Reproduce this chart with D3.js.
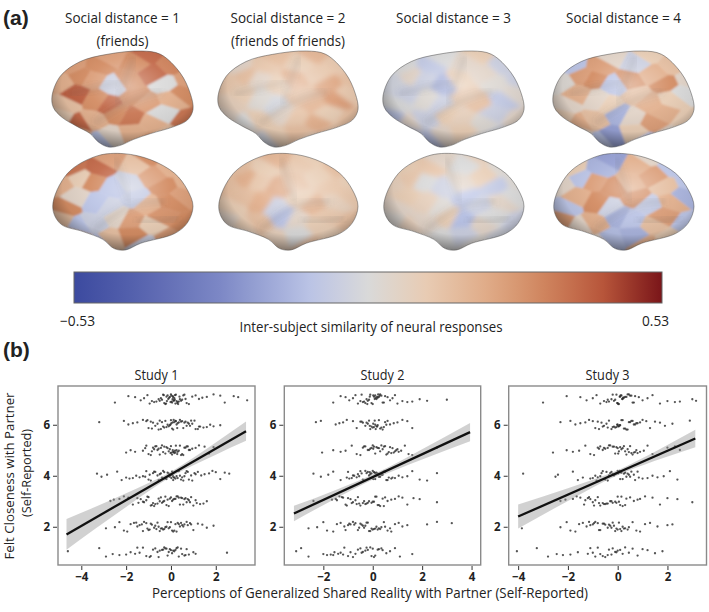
<!DOCTYPE html>
<html>
<head>
<meta charset="utf-8">
<script src="https://cdn.jsdelivr.net/npm/d3@7"></script>
<style>
  body { margin: 0; background: #fff; }
  svg text { font-family: "Open Sans", "Noto Sans", sans-serif; fill: #222; }
</style>
</head>
<body>
<svg id="fig" width="709" height="612"></svg>
<script>
// ---- panel (a) ----
const distTitles = [["Social distance = 1", "(friends)"], ["Social distance = 2", "(friends of friends)"], ["Social distance = 3"], ["Social distance = 4"]];
const simRange = [-0.53, 0.53];

const simTop1 = [0.15,0.25,0.3,0.25,0.3,0.38,0.32,0.28, 0.2,0.3,0.25,-0.05,0.3,0.38,0.0,0.25, 0.15,0.4,0.3,0.38,0.3,0.25,0.2,0.3, 0.1,0.38,0.2,0.3,0.35,0.2,0.0,0.35, 0.25,0.2,-0.1,0.05,0.2,0.25,0.15,0.2];
const simBot1 = [0.3,0.35,0.38,0.25,0.15,0.3,0.2,0.25, 0.2,0.1,0.3,-0.1,-0.05,0.25,0.3,0.2, 0.3,0.05,-0.1,-0.05,-0.08,0.2,0.3,0.25, 0.15,-0.1,-0.05,0.05,0.25,0.1,0.28,0.3, 0.2,0.2,-0.1,0.15,0.3,-0.05,0.25,0.2];
const simTop2 = [0.1,0.05,0.12,0.15,0.1,0.18,0.12,0.08, 0.12,0.15,0.05,0.1,0.2,0.12,0.22,0.15, 0.08,0.1,0.02,-0.02,0.15,0.18,0.25,0.12, 0.05,0.0,0.1,0.05,0.12,0.2,0.1,0.15, 0.1,0.05,-0.03,0.1,0.15,0.08,0.12,0.1];
const simBot2 = [0.12,0.15,0.1,0.18,0.12,0.1,0.15,0.08, 0.15,0.2,0.12,0.22,0.15,0.1,0.12,0.1, 0.1,0.15,0.2,-0.05,0.1,0.18,0.08,0.12, 0.05,0.1,0.15,-0.1,0.05,0.1,0.12,0.15, 0.1,0.05,0.12,0.08,0.0,0.15,0.1,0.05];
const simTop3 = [-0.05,0.0,-0.08,0.0,0.05,0.1,-0.05,0.0, -0.03,0.05,-0.05,-0.15,0.1,0.05,0.02,-0.05, 0.0,-0.05,0.02,-0.05,0.12,0.15,-0.08,0.03, -0.1,0.05,-0.05,0.1,0.08,0.02,-0.05,0.05, -0.05,-0.08,-0.1,0.05,0.1,0.0,-0.03,0.02];
const simBot3 = [0.05,0.1,0.12,0.05,0.0,0.08,0.02,0.0, 0.08,0.12,0.0,-0.05,0.05,0.1,-0.08,0.02, 0.05,0.1,0.08,0.02,-0.1,-0.05,0.05,0.0, 0.02,0.08,0.05,0.1,-0.12,0.05,0.0,-0.05, 0.0,0.05,0.02,0.0,-0.05,0.02,-0.03,0.0];
const simTop4 = [0.05,-0.1,0.25,0.05,-0.05,0.1,0.15,-0.15, 0.02,0.25,0.3,-0.1,0.28,0.2,0.3,0.05, 0.05,0.2,0.05,0.1,0.15,0.2,0.1,0.0, 0.1,0.2,0.15,-0.15,0.05,0.25,0.2,0.1, 0.1,0.05,-0.1,-0.2,0.1,-0.1,0.05,0.0];
const simBot4 = [-0.05,0.1,-0.15,-0.2,0.2,0.05,-0.1,0.0, 0.05,-0.1,0.25,0.3,0.2,0.25,0.15,-0.1, -0.1,0.2,0.3,-0.05,0.28,-0.08,0.2,-0.15, 0.25,0.05,0.2,-0.15,-0.1,0.15,0.25,-0.1, 0.1,0.15,0.05,-0.12,-0.15,0.2,0.1,0.0];

// ---- panel (b) ----
const studyNames = ["Study 1", "Study 2", "Study 3"];
const closenessLevels = [1, 2, 3, 4, 5, 6, 7];
// x (shared reality) of each respondent, one list per closeness level 1..7
const study1X = [
  [-4.6,-3.2,-2.9,-2.6,-2.3,-2.0,-1.8,-1.6,-1.4,-1.25,-1.1,-0.95,-0.8,-0.7,-0.6,-0.5,-0.4,-0.3,-0.2,-0.15,-0.05,0,0.05,0.15,0.25,0.35,0.5,0.65,0.8,1.0,1.1,2.5,
   -1.5,-0.9,-0.55,-0.35,-0.25,-0.1,0.1,0.2,0.3,0.45,0.6,0.7],
  [-2.9,-2.5,-2.3,-2.1,-1.95,-1.8,-1.65,-1.5,-1.4,-1.3,-1.2,-1.1,-1.0,-0.9,-0.85,-0.75,-0.7,-0.6,-0.5,-0.45,-0.35,-0.3,-0.2,-0.1,-0.05,0,0.05,0.1,0.2,0.3,0.4,0.5,0.6,0.7,0.85,1.0,1.2,1.4,1.6,1.9,
   -1.55,-1.25,-1.05,-0.95,-0.65,-0.55,-0.4,-0.25,-0.15,0.15,0.25,0.35,0.45,0.55,0.75,0.9],
  [-2.7,-2.55,-2.3,-2.1,-1.9,-1.7,-1.5,-1.35,-1.2,-1.1,-1.0,-0.9,-0.8,-0.7,-0.6,-0.5,-0.4,-0.35,-0.25,-0.2,-0.1,-0.05,0,0.05,0.1,0.2,0.25,0.35,0.4,0.5,0.6,0.7,0.8,0.9,1.0,1.15,1.3,1.45,1.6,
   -1.45,-1.25,-1.05,-0.85,-0.75,-0.55,-0.45,-0.3,-0.15,0.15,0.3,0.45,0.55,0.65,0.75,0.85,1.1],
  [-3.3,-3.1,-2.85,-2.4,-2.2,-2.0,-1.85,-1.7,-1.55,-1.4,-1.25,-1.1,-1.0,-0.9,-0.8,-0.7,-0.6,-0.5,-0.45,-0.35,-0.3,-0.2,-0.15,-0.1,-0.05,0,0.05,0.1,0.15,0.2,0.3,0.4,0.5,0.6,0.7,0.8,0.95,1.05,1.2,1.35,1.5,1.7,1.85,2.0,2.2,2.4,2.6,
   -1.15,-0.95,-0.75,-0.55,-0.4,-0.25,0.02,0.08,0.12,0.25,0.35,0.45,0.55,0.65,0.75,0.9,1.1],
  [-2.0,-1.8,-1.6,-1.25,-1.1,-1.0,-0.9,-0.8,-0.7,-0.6,-0.55,-0.45,-0.4,-0.3,-0.25,-0.2,-0.15,-0.1,-0.05,0,0.05,0.1,0.15,0.2,0.25,0.3,0.35,0.4,0.5,0.55,0.65,0.75,0.85,0.95,1.1,1.25,1.5,1.7,1.9,
   -1.15,-0.85,-0.75,-0.65,-0.5,-0.35,-0.02,0.02,0.08,0.12,0.18,0.22,0.28,0.45,0.6,0.7,0.8],
  [-3.2,-2.1,-1.9,-1.7,-1.5,-1.25,-1.1,-1.0,-0.9,-0.8,-0.7,-0.6,-0.5,-0.45,-0.35,-0.3,-0.2,-0.15,-0.1,-0.05,0,0.05,0.1,0.15,0.2,0.25,0.3,0.35,0.4,0.5,0.55,0.65,0.75,0.85,0.95,1.05,1.2,1.3,1.45,1.6,1.75,1.9,2.2,
   -1.05,-0.85,-0.55,-0.4,-0.25,-0.02,0.02,0.08,0.12,0.22,0.28,0.45,0.6,0.7,0.8,0.9,1.1,1.25],
  [-2.5,-1.9,-1.6,-1.35,-1.2,-1.05,-0.95,-0.85,-0.75,-0.65,-0.55,-0.5,-0.4,-0.35,-0.3,-0.25,-0.2,-0.15,-0.12,-0.08,-0.05,0,0.02,0.05,0.08,0.1,0.12,0.15,0.18,0.2,0.25,0.3,0.35,0.4,0.45,0.5,0.6,0.7,0.8,0.95,1.1,1.25,1.4,1.6,1.9,2.2,2.4,2.8,3.0,3.4,
   -0.45,-0.32,-0.22,-0.18,-0.02,0.03,0.07,0.13,0.17,0.22,0.28,0.32,0.38,0.55,0.65]
];
const study2X = [
  [-3.1,-2.9,-2.6,-2.0,-1.85,-1.7,-1.55,-1.4,-1.3,-1.15,-1.0,-0.8,-0.6,-0.5,-0.4,-0.3,-0.2,-0.1,0,0.1,0.25,0.4,0.55,0.7,0.9,1.1,1.6,
   -1.6,-1.2,-0.9,-0.7,-0.45,-0.25,-0.05,0.05,0.2,0.35],
  [-2.6,-2.25,-2.0,-1.85,-1.6,-1.45,-1.3,-1.15,-1.0,-0.9,-0.8,-0.7,-0.6,-0.5,-0.45,-0.35,-0.3,-0.2,-0.15,-0.05,0,0.05,0.15,0.25,0.35,0.45,0.6,0.75,0.9,1.05,1.2,1.4,2.2,2.6,3.2,
   -1.1,-0.95,-0.75,-0.55,-0.4,-0.25,-0.1,0.1,0.2,0.3,0.5,0.7],
  [-2.4,-1.65,-1.5,-1.35,-1.2,-1.1,-1.0,-0.9,-0.8,-0.7,-0.6,-0.5,-0.4,-0.3,-0.25,-0.15,-0.05,0,0.1,0.2,0.3,0.4,0.5,0.6,0.75,0.9,1.05,1.2,1.4,1.65,1.9,2.6,
   -1.45,-1.25,-1.05,-0.85,-0.65,-0.55,-0.35,-0.2,0.05,0.15,0.25,0.45],
  [-2.4,-2.1,-1.8,-1.6,-1.3,-1.05,-0.95,-0.85,-0.75,-0.65,-0.55,-0.5,-0.4,-0.35,-0.25,-0.2,-0.15,-0.1,-0.05,0,0.05,0.1,0.15,0.2,0.3,0.35,0.45,0.55,0.65,0.75,0.9,1.05,1.2,1.4,1.6,1.9,2.2,2.6,
   -1.0,-0.8,-0.6,-0.45,-0.3,-0.12,0.02,0.08,0.12,0.25,0.4,0.5,0.6,0.8],
  [-2.05,-1.6,-1.3,-1.1,-0.85,-0.65,-0.5,-0.4,-0.3,-0.2,-0.1,-0.05,0,0.05,0.1,0.15,0.25,0.3,0.4,0.5,0.55,0.65,0.75,0.85,0.95,1.05,1.15,1.3,1.45,1.6,2.6,
   -0.35,-0.15,0.02,0.2,0.35,0.45,0.6,0.7,0.8,0.9,1.0],
  [-2.3,-2.1,-1.5,-1.35,-1.2,-1.05,-0.8,-0.65,-0.5,-0.4,-0.3,-0.2,-0.15,-0.1,-0.05,0,0.05,0.1,0.15,0.2,0.25,0.3,0.4,0.5,0.6,0.7,0.85,1.0,1.2,1.4,1.6,
   -0.45,-0.25,-0.12,0.02,0.08,0.12,0.18,0.35,0.45,0.55],
  [-1.6,-1.3,-1.1,-0.95,-0.8,-0.7,-0.6,-0.5,-0.4,-0.35,-0.25,-0.2,-0.15,-0.1,-0.05,0,0.05,0.1,0.15,0.2,0.25,0.3,0.35,0.4,0.5,0.6,0.7,0.8,0.9,1.0,1.2,1.4,1.6,1.9,2.2,3.0,
   -0.45,-0.3,-0.22,-0.12,0.02,0.08,0.12,0.18,0.22,0.28,0.45]
];
const study3X = [
  [-4.05,-3.25,-2.8,-2.45,-2.2,-1.9,-1.6,-1.2,-1.0,-0.8,-0.6,-0.5,-0.35,-0.2,-0.1,0,0.1,0.3,0.6,0.8,1.0,1.2,1.5,1.8,
   -1.1,-0.9,-0.7,-0.4,-0.25,-0.05,0.2,0.45],
  [-3.85,-2.3,-2.05,-1.9,-1.7,-1.55,-1.4,-1.25,-1.1,-1.0,-0.9,-0.8,-0.7,-0.6,-0.5,-0.4,-0.3,-0.2,-0.1,-0.05,0,0.1,0.2,0.3,0.45,0.6,0.75,0.9,1.1,1.3,1.6,2.0,2.2,
   -1.15,-0.95,-0.75,-0.55,-0.35,-0.25,-0.15,0.05,0.15,0.25,0.4],
  [-2.3,-2.1,-1.8,-1.65,-1.5,-1.35,-1.2,-1.1,-1.0,-0.9,-0.8,-0.7,-0.6,-0.5,-0.4,-0.3,-0.2,-0.1,0,0.1,0.2,0.35,0.5,0.65,0.8,0.9,1.1,1.4,1.7,2.0,2.4,3.0,
   -1.3,-1.15,-0.95,-0.75,-0.55,-0.45,-0.25,-0.05,0.05,0.15,0.3],
  [-3.8,-2.5,-2.4,-1.8,-1.6,-1.4,-1.1,-1.0,-0.9,-0.8,-0.7,-0.6,-0.5,-0.4,-0.3,-0.25,-0.15,-0.1,-0.05,0,0.05,0.1,0.15,0.25,0.35,0.45,0.55,0.7,0.85,1.0,1.2,1.4,1.6,1.85,2.1,2.4,
   -0.85,-0.65,-0.45,-0.35,-0.2,0.02,0.08,0.12,0.2,0.3,0.4,0.5,0.65,0.8],
  [-2.6,-2.05,-1.8,-1.55,-1.3,-1.1,-0.95,-0.8,-0.7,-0.6,-0.5,-0.4,-0.3,-0.2,-0.1,-0.05,0,0.05,0.15,0.25,0.35,0.45,0.55,0.65,0.75,0.9,1.05,1.2,1.4,1.6,2.0,2.3,2.5,
   -0.75,-0.55,-0.35,-0.15,0.02,0.1,0.2,0.3,0.4,0.5,0.6,0.7,0.8],
  [-2.3,-1.9,-1.7,-1.5,-1.3,-1.15,-1.0,-0.9,-0.8,-0.65,-0.55,-0.45,-0.35,-0.25,-0.15,-0.1,-0.05,0,0.05,0.1,0.2,0.3,0.4,0.5,0.6,0.7,0.8,0.9,1.0,1.15,1.3,1.5,1.7,1.9,2.2,2.9,
   -0.75,-0.6,-0.4,-0.2,-0.02,0.02,0.08,0.15,0.25,0.35,0.45,0.55,0.65,0.75],
  [-3.0,-2.05,-1.5,-1.25,-1.0,-0.85,-0.7,-0.55,-0.45,-0.35,-0.25,-0.15,-0.1,-0.05,0,0.05,0.1,0.15,0.2,0.25,0.3,0.4,0.5,0.6,0.7,0.85,1.0,1.2,1.4,1.7,2.0,2.3,2.5,3.0,3.15,
   -0.4,-0.2,-0.02,0.02,0.08,0.12,0.18,0.22,0.35,0.45,0.55,0.65]
];
// vertical jitter of the plotted points around their level
const rowJitter = [0.04,-0.15,0.12,-0.06,0.19,-0.11,0.01,0.16,-0.19,0.08,-0.02,0.14,-0.09,0.06,-0.17,0.1,-0.04,0.18,-0.13,0.0,0.09,-0.07,0.15];
// fitted line end points [x0, y0, x1, y1] and CI half-widths [x, hw]
const fit1 = [-4.66, 1.7, 3.35, 5.75];
const fit2 = [-3.19, 2.52, 3.94, 5.71];
const fit3 = [-4.0, 2.4, 3.12, 5.46];
const band1 = [[-4.66,0.6],[-2,0.27],[0,0.1],[2,0.24],[3.35,0.38]];
const band2 = [[-3.19,0.3],[-1.5,0.17],[0.2,0.1],[2,0.2],[3.94,0.36]];
const band3 = [[-4.0,0.47],[-2,0.25],[0,0.1],[1.5,0.18],[3.12,0.34]];
const xTicks1 = [-4, -2, 0, 2], xTicks2 = [-2, 0, 2, 4], xTicks3 = [-4, -2, 0, 2];
const yTicks = [2, 4, 6];

const svg = d3.select("#fig");
const defs = svg.append("defs");

// colour scale of the colorbar (cool-warm)
const simColor = d3.scaleLinear()
  .domain([-0.53, -0.4, -0.265, -0.1, 0, 0.1, 0.2, 0.3, 0.42, 0.53])
  .range(["#3c4a9f", "#5a66b0", "#7d88c6", "#bcc5e6", "#d9d9d9", "#e8cdb5", "#e2b08e", "#d38c64", "#b9573b", "#7a1519"]);

// ---------- panel (a) ----------
svg.append("text").attr("x", 3).attr("y", 25).style("font-family", "'Liberation Sans', Arial, sans-serif")
  .style("font-weight", "bold").style("font-size", "21px").attr("fill", "#111").text("(a)");

const brainCols = [[52, 193], [218, 358], [383, 524], [553, 694]];
const brainRows = [[51, 147], [153, 250]];
const brainSets = [[simTop1, simBot1], [simTop2, simBot2], [simTop3, simBot3], [simTop4, simBot4]];
const blurFor = ["crisp", "soft", "soft", "crisp"];

distTitles.forEach((t, i) => {
  const cx = d3.mean(brainCols[i]);
  t.forEach((s, j) => {
    svg.append("text").attr("x", cx).attr("y", 23 + j * 23).attr("text-anchor", "middle")
      .style("font-size", "15px").attr("textLength", j === 0 ? 115 : (s.length > 10 ? 114 : 52))
      .attr("lengthAdjust", "spacingAndGlyphs").text(s);
  });
});

// brain outline in unit box (top = one view, bottom = the other)
const shapeTop = [[0,0.47],[0.06,0.26],[0.2,0.11],[0.39,0.035],[0.63,0],[0.77,0.035],[0.91,0.23],[0.98,0.44],[1,0.61],[0.96,0.72],[0.86,0.79],[0.7,0.86],[0.58,0.92],[0.48,0.985],[0.4,1.0],[0.33,0.95],[0.27,0.86],[0.17,0.78],[0.07,0.69],[0.01,0.59]];
const shapeBot = [[0.005,0.55],[0.11,0.21],[0.32,0.03],[0.51,0.007],[0.7,0.07],[0.87,0.21],[0.96,0.38],[1,0.55],[0.96,0.72],[0.87,0.83],[0.63,0.93],[0.52,1.0],[0.44,0.985],[0.36,0.89],[0.22,0.81],[0.06,0.73]];
const sulciTop = [[[0.3,0.75],[0.45,0.6],[0.62,0.47],[0.78,0.42]], [[0.58,0.06],[0.52,0.3],[0.46,0.55]], [[0.12,0.45],[0.3,0.38],[0.5,0.32]]];
const sulciBot = [[[0.3,0.8],[0.45,0.62],[0.62,0.5],[0.8,0.5]], [[0.45,0.05],[0.5,0.3],[0.55,0.5]], [[0.6,0.7],[0.75,0.72],[0.9,0.66]]];
// irregular parcel centres (offsets from a 8x5 lattice)
const seedShift = [[0.2,-0.1],[-0.3,0.2],[0.1,0.3],[-0.2,-0.25],[0.3,0.1],[-0.1,-0.3],[0.25,0.25],[-0.25,0.05],
  [-0.1,0.2],[0.3,-0.2],[-0.3,-0.1],[0.15,0.3],[-0.2,0.1],[0.25,-0.3],[-0.05,0.25],[0.2,0],
  [0.3,0.25],[-0.2,-0.2],[0.05,0.1],[-0.3,0.3],[0.2,-0.15],[-0.1,0.2],[0.3,-0.05],[-0.25,-0.3],
  [-0.15,-0.05],[0.2,0.3],[-0.25,0.15],[0.3,-0.25],[-0.05,-0.1],[0.25,0.2],[-0.3,-0.2],[0.1,0.25],
  [0.25,0.1],[-0.1,-0.25],[0.3,0.2],[-0.2,0],[0.1,-0.2],[-0.3,0.25],[0.2,-0.1],[-0.05,0.2]];

const shade = defs.append("radialGradient").attr("id", "shade").attr("cx", 0.55).attr("cy", 0.36).attr("r", 0.64);
[[0, "#fff", 0.38], [0.45, "#fff", 0.05], [0.75, "#000", 0.05], [1, "#000", 0.42]].forEach(s =>
  shade.append("stop").attr("offset", s[0]).attr("stop-color", s[1]).attr("stop-opacity", s[2]));
defs.append("filter").attr("id", "soft").append("feGaussianBlur").attr("stdDeviation", 2.8);
defs.append("filter").attr("id", "crisp").append("feGaussianBlur").attr("stdDeviation", 1.0);
defs.append("filter").attr("id", "sulc").append("feGaussianBlur").attr("stdDeviation", 3);

const nCols = 8, nRows = 5;
const seeds = d3.range(nCols * nRows).map(k => {
  const r = Math.floor(k / nCols), c = k % nCols;
  return [(c + 0.5 + seedShift[k][0]) / nCols, (r + 0.5 + seedShift[k][1]) / nRows];
});
const vor = d3.Delaunay.from(seeds).voronoi([-0.2, -0.2, 1.2, 1.2]);

brainSets.forEach((views, bi) => {
  views.forEach((vals, vi) => {
    const xs = d3.scaleLinear().domain([0, 1]).range(brainCols[bi]);
    const ys = d3.scaleLinear().domain([0, 1]).range(brainRows[vi]);
    const shape = vi === 0 ? shapeTop : shapeBot;
    const outline = d3.line().x(p => xs(p[0])).y(p => ys(p[1])).curve(d3.curveCatmullRomClosed.alpha(0.5));
    const id = "clip" + bi + vi;
    defs.append("clipPath").attr("id", id).append("path").attr("d", outline(shape));
    const g = svg.append("g").attr("clip-path", `url(#${id})`);
    const pg = g.append("g").attr("filter", `url(#${blurFor[bi]})`);
    vals.forEach((v, k) => {
      const poly = vor.cellPolygon(k);
      pg.append("path")
        .attr("d", "M" + poly.map(p => xs(p[0]) + "," + ys(p[1])).join("L") + "Z")
        .attr("fill", simColor(v)).attr("stroke", simColor(v)).attr("stroke-width", 0.5);
    });
    const sl = d3.line().x(p => xs(p[0])).y(p => ys(p[1])).curve(d3.curveBasis);
    (vi === 0 ? sulciTop : sulciBot).forEach(s =>
      g.append("path").attr("d", sl(s)).attr("fill", "none").attr("stroke", "#555")
        .attr("stroke-width", 7).attr("stroke-opacity", 0.14).attr("filter", "url(#sulc)"));
    g.append("path").attr("d", outline(shape)).attr("fill", "url(#shade)");
    svg.append("path").attr("d", outline(shape)).attr("fill", "none")
      .attr("stroke", "#4a4a4a").attr("stroke-opacity", 0.5).attr("stroke-width", 1);
  });
});

// colorbar
const cbX = d3.scaleLinear().domain(simRange).range([74, 662]);
const grad = defs.append("linearGradient").attr("id", "cbar");
d3.range(0, 1.0001, 0.05).forEach(f => {
  grad.append("stop").attr("offset", f).attr("stop-color", simColor(simRange[0] + f * (simRange[1] - simRange[0])));
});
svg.append("rect").attr("x", cbX(simRange[0])).attr("y", 272).attr("width", cbX(simRange[1]) - cbX(simRange[0]))
  .attr("height", 31).attr("fill", "url(#cbar)").attr("stroke", "#666").attr("stroke-width", 1);
svg.append("text").attr("x", 60).attr("y", 326).style("font-size", "14px")
  .attr("textLength", 35).attr("lengthAdjust", "spacingAndGlyphs").text("\u22120.53");
svg.append("text").attr("x", 669).attr("y", 326).attr("text-anchor", "end").style("font-size", "14px")
  .attr("textLength", 27).attr("lengthAdjust", "spacingAndGlyphs").text("0.53");
svg.append("text").attr("x", 371).attr("y", 332).attr("text-anchor", "middle").style("font-size", "14px")
  .attr("textLength", 263).attr("lengthAdjust", "spacingAndGlyphs").text("Inter-subject similarity of neural responses");

// ---------- panel (b) ----------
svg.append("text").attr("x", 3).attr("y", 357).style("font-family", "'Liberation Sans', Arial, sans-serif")
  .style("font-weight", "bold").style("font-size", "21px").attr("fill", "#111").text("(b)");

const panels = [
  { rows: study1X, x0: 58, x1: 255, dom: [-5.04, 3.75], ticks: xTicks1, fit: fit1, band: band1 },
  { rows: study2X, x0: 284.3, x1: 480.7, dom: [-3.58, 4.37], ticks: xTicks2, fit: fit2, band: band2 },
  { rows: study3X, x0: 508.7, x1: 706.5, dom: [-4.38, 3.57], ticks: xTicks3, fit: fit3, band: band3 }
];
const y = d3.scaleLinear().domain([0.5, 7.52]).range([565, 386]);
const fmt = d => d < 0 ? "\u2212" + Math.abs(d) : String(d);

panels.forEach((p, pi) => {
  const x = d3.scaleLinear().domain(p.dom).range([p.x0, p.x1]);
  const cid = "pclip" + pi;
  defs.append("clipPath").attr("id", cid).append("rect")
    .attr("x", p.x0).attr("y", 386).attr("width", p.x1 - p.x0).attr("height", 179);
  const g = svg.append("g");

  // points
  const pts = [];
  p.rows.forEach((xs, li) => xs.forEach((v, i) =>
    pts.push([v, closenessLevels[li] + rowJitter[(i * 7 + li * 3) % rowJitter.length]])));
  g.append("g").selectAll("circle").data(pts).join("circle")
    .attr("cx", d => x(d[0])).attr("cy", d => y(d[1])).attr("r", 1.15)
    .attr("fill", "#2a2a2a").attr("fill-opacity", 0.8);

  // fit + CI band
  const [fx0, fy0, fx1, fy1] = p.fit;
  const fitY = d3.scaleLinear().domain([fx0, fx1]).range([fy0, fy1]);
  const area = d3.area().x(d => x(d[0])).y0(d => y(fitY(d[0]) - d[1])).y1(d => y(fitY(d[0]) + d[1]))
    .curve(d3.curveMonotoneX);
  g.append("path").attr("clip-path", `url(#${cid})`).attr("d", area(p.band))
    .attr("fill", "#999").attr("fill-opacity", 0.45);
  g.append("line").attr("x1", x(fx0)).attr("y1", y(fy0)).attr("x2", x(fx1)).attr("y2", y(fy1))
    .attr("stroke", "#111").attr("stroke-width", 2.3);

  // frame
  g.append("rect").attr("x", p.x0).attr("y", 386).attr("width", p.x1 - p.x0).attr("height", 179)
    .attr("fill", "none").attr("stroke", "#8a8a8a").attr("stroke-width", 1.4);

  // axes
  const ax = g.append("g").attr("transform", "translate(0,566)")
    .call(d3.axisBottom(x).tickValues(p.ticks).tickFormat(fmt).tickSize(4).tickPadding(3));
  const ay = g.append("g").attr("transform", `translate(${p.x0 - 1},0)`)
    .call(d3.axisLeft(y).tickValues(yTicks).tickFormat(fmt).tickSize(4).tickPadding(3));
  [ax, ay].forEach(a => {
    a.select(".domain").remove();
    a.selectAll(".tick line").attr("stroke", "#333");
    a.selectAll(".tick text").style("font-size", "11.5px").style("font-weight", "bold").attr("fill", "#3a3a3a");
  });

  g.append("text").attr("x", (p.x0 + p.x1) / 2).attr("y", 380).attr("text-anchor", "middle")
    .style("font-size", "14px").attr("textLength", 44).attr("lengthAdjust", "spacingAndGlyphs").text(studyNames[pi]);
});

// axis titles
const yl = svg.append("g").attr("transform", "translate(0,476) rotate(-90)");
yl.append("text").attr("x", 0).attr("y", 14).attr("text-anchor", "middle").style("font-size", "13.5px")
  .attr("textLength", 167).attr("lengthAdjust", "spacingAndGlyphs").text("Felt Closeness with Partner");
yl.append("text").attr("x", 3).attr("y", 31).attr("text-anchor", "middle").style("font-size", "13.5px")
  .attr("textLength", 88).attr("lengthAdjust", "spacingAndGlyphs").text("(Self-Reported)");
svg.append("text").attr("x", 370).attr("y", 598).attr("text-anchor", "middle").style("font-size", "14px")
  .attr("textLength", 436).attr("lengthAdjust", "spacingAndGlyphs")
  .text("Perceptions of Generalized Shared Reality with Partner (Self-Reported)");
</script>
</body>
</html>
